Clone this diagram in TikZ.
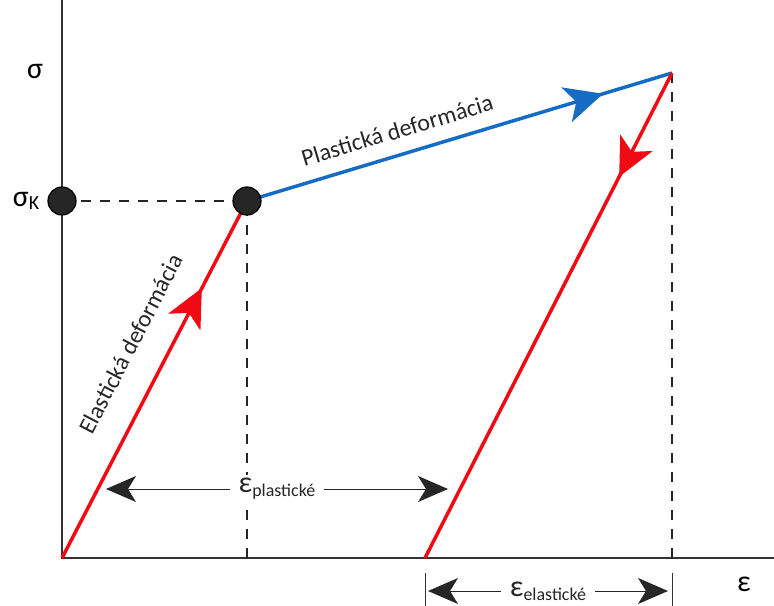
\documentclass[tikz,border=0pt]{standalone}
\usepackage{fontspec}
\setmainfont{Carlito}
\usetikzlibrary{arrows.meta,decorations.markings}

\definecolor{plblue}{RGB}{22,108,196}
\definecolor{elred}{RGB}{240,10,20}

\tikzset{
  dot/.style={circle, fill=black!85, draw=black, line width=1.2bp, minimum size=28bp, inner sep=0pt},
  axis/.style={line width=1.3bp, black!80},
  guide/.style={line width=1.5bp, dash pattern=on 10bp off 9bp, black!85},
  redline/.style={line width=3.5bp, elred},
  blueline/.style={line width=3.5bp, plblue},
  midarrow/.style={postaction={decorate}, decoration={markings,
    mark=at position #1 with {\arrow{Stealth[length=38bp,width=36bp,inset=10bp]}}}},
  dimline/.style={line width=1bp, black!85,
    {Stealth[length=30bp,width=26bp,inset=8bp]}-{Stealth[length=30bp,width=26bp,inset=8bp]}},
  lbl/.style={font=\fontsize{24}{24}\selectfont, text=black!85},
}

\newcommand{\epsdim}[1]{{\fontsize{30}{30}\selectfont ε}\raisebox{-4bp}{\fontsize{18}{18}\selectfont #1}}

\begin{document}
\begin{tikzpicture}[x=1bp, y=-1bp]
	\useasboundingbox (0,0) rectangle (774,606);
	% points of the diagram
	\coordinate (O) at (62,558);
	\coordinate (K) at (247,201);
	\coordinate (T) at (672,73);
	\coordinate (U) at (425,558);
	\coordinate (SK) at (62,201);
	\coordinate (Ktop) at (62,0);
	\coordinate (Eend) at (774,558);
	\coordinate (Kax) at (247,558);
	\coordinate (Tax) at (672,558);
	% axes
	\draw[axis] (Ktop) -- (O) -- (Eend);
	% guides
	\draw[guide] (SK) -- (K) -- (Kax);
	\draw[guide] (T) -- (Tax);
	% curve
	\draw[redline, midarrow=0.756] (O) -- (K)
		node[lbl, sloped, pos=0.552, above=24bp] (elast) {Elastická deformácia};
	\draw[blueline, midarrow=0.838] (K) -- (T)
		node[lbl, sloped, pos=0.37, above=11bp] (plast) {Plastická deformácia};
	\draw[redline, midarrow=0.214] (T) -- (U);
	\node[dot] (skdot) at (SK) {};
	\node[dot] (kdot) at (K) {};
	% labels of the axes
	\node (sigma) at (35,72) {\fontsize{30}{30}\selectfont σ};
	\node (sigmak) at (26,201) {{\fontsize{30}{30}\selectfont σ}\raisebox{-3bp}{\fontsize{20}{20}\selectfont K}};
	\node (eps) at (744,584) {\fontsize{30}{30}\selectfont ε};
	% plastic strain
	\coordinate (pl1) at (106,489);
	\coordinate (pl2) at (448,489);
	\draw[dimline] (pl1) -- (pl2)
		node[midway, fill=white, inner xsep=9bp, xshift=0bp] (epspl) {\epsdim{plastické}};
	% elastic strain
	\coordinate (t1a) at (425,573);
	\coordinate (t1b) at (425,606);
	\coordinate (t2a) at (672,573);
	\coordinate (t2b) at (672,606);
	\draw[axis, line width=1bp] (t1a) -- (t1b);
	\draw[axis, line width=1bp] (t2a) -- (t2b);
	\coordinate (el1) at (428,591);
	\coordinate (el2) at (668,591);
	\draw[dimline] (el1) -- (el2)
		node[midway, fill=white, inner xsep=9bp] (epsel) {\epsdim{elastické}};
\end{tikzpicture}
\end{document}
